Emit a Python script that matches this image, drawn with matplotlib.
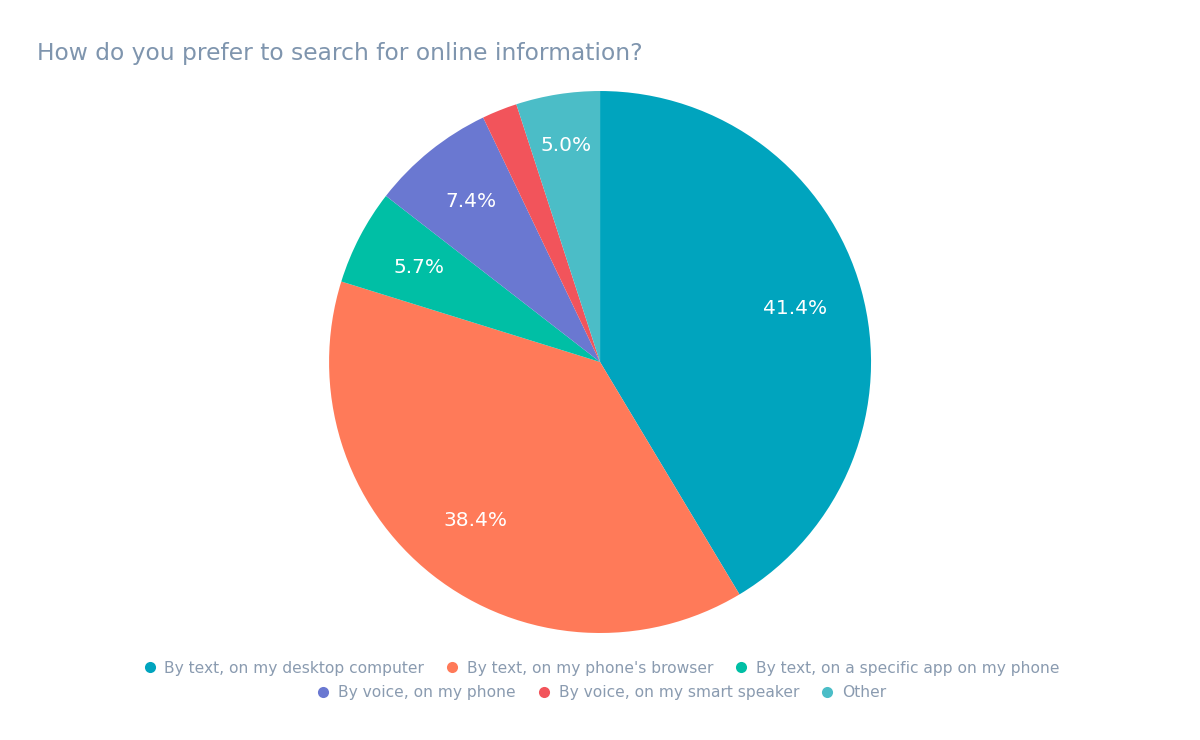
import numpy as np
import matplotlib as mpl
mpl.use('Agg')
import matplotlib.pyplot as plt
from matplotlib.lines import Line2D

categories = ['By text, on my desktop computer', "By text, on my phone's browser",
              'By text, on a specific app on my phone', 'By voice, on my phone',
              'By voice, on my smart speaker', 'Other']
shares = [41.4, 38.4, 5.7, 7.4, 2.1, 5.0]
colors = ['#00A4BE', '#FF7A59', '#00BFA5', '#6A78D1', '#F2545B', '#4BBDC7']
# radial position of the inside labels (fraction of radius)
label_r = [0.745, 0.745, 0.755, 0.76, 0.8, 0.81]

title_col = '#7f95ae'
legend_col = '#8a9bb0'

fig = plt.figure(figsize=(12, 7.4), dpi=100)
ax = fig.add_axes([0.2742, 0.1446, 0.4517, 0.7324])

wedges, texts = ax.pie(shares, colors=colors, startangle=90, counterclock=False,
                       radius=1.0, wedgeprops=dict(linewidth=0))
for w, p, r in zip(wedges, shares, label_r):
    if p < 3:
        continue
    ang = np.deg2rad((w.theta1 + w.theta2) / 2)
    ax.text(r * np.cos(ang), r * np.sin(ang), '{:.1f}%'.format(p),
            color='white', fontsize=14.5, ha='center', va='center')
ax.set_xlim(-1, 1)
ax.set_ylim(-1, 1)
ax.set_aspect('equal')
ax.axis('off')

fig.text(0.031, 0.928, 'How do you prefer to search for online information?',
         fontsize=16.8, color=title_col, ha='left', va='center')

handles = [Line2D([0], [0], marker='o', linestyle='', markersize=8,
                  markerfacecolor=c, markeredgewidth=0) for c in colors]

leg_kw = dict(ncol=3, frameon=False, fontsize=11.2, labelcolor=legend_col,
              handletextpad=0.35, columnspacing=1.2, handlelength=1.2, loc='center')
fig.legend(handles[:3], categories[:3], bbox_to_anchor=(0.5, 0.097), **leg_kw)
fig.legend(handles[3:], categories[3:], bbox_to_anchor=(0.5, 0.064), **leg_kw)

plt.savefig('out.png', dpi=100, facecolor='white')
